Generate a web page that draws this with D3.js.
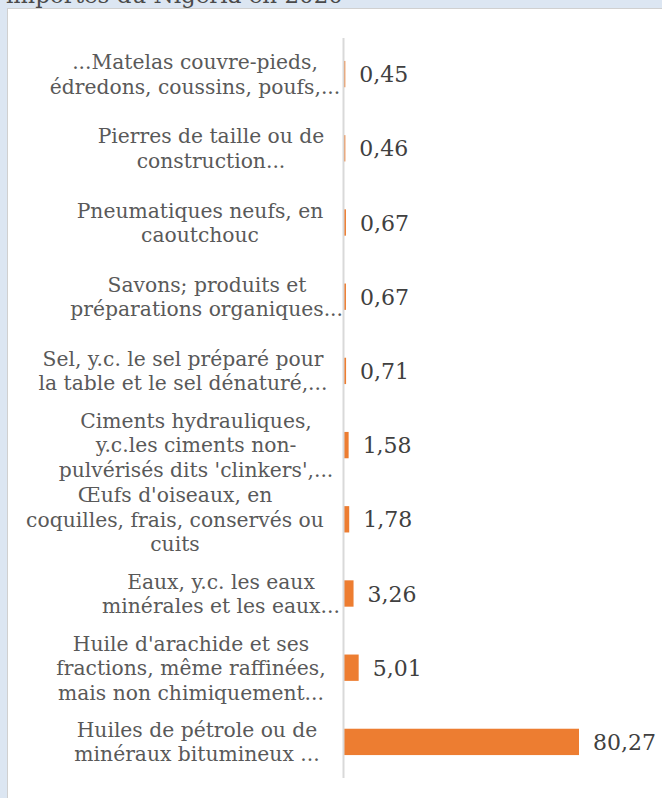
<!DOCTYPE html>
<html><head><meta charset="utf-8">
<script src="https://cdn.jsdelivr.net/npm/d3@7"></script>
<style>
html,body{margin:0;padding:0;background:#dce6f2;}
svg{display:block;}
</style></head>
<body>
<svg id="chart" width="662" height="798"></svg>
<script>
const titleText = "importés du Nigéria en 2020";
const categories = [
  ["...Matelas couvre-pieds,", "édredons, coussins, poufs,..."],
  ["Pierres de taille ou de", "construction..."],
  ["Pneumatiques neufs, en", "caoutchouc"],
  ["Savons; produits et", "préparations organiques..."],
  ["Sel, y.c. le sel préparé pour", "la table et le sel dénaturé,..."],
  ["Ciments hydrauliques,", "y.c.les ciments non-", "pulvérisés dits 'clinkers',..."],
  ["Œufs d'oiseaux, en", "coquilles, frais, conservés ou", "cuits"],
  ["Eaux, y.c. les eaux", "minérales et les eaux..."],
  ["Huile d'arachide et ses", "fractions, même raffinées,", "mais non chimiquement..."],
  ["Huiles de pétrole ou de", "minéraux bitumineux ..."]
];
const values = [0.45, 0.46, 0.67, 0.67, 0.71, 1.58, 1.78, 3.26, 5.01, 80.27];
const valueLabels = ["0,45", "0,46", "0,67", "0,67", "0,71", "1,58", "1,78", "3,26", "5,01", "80,27"];

// layout only: horizontal centre of each wrapped category-label block (as placed in the reference)
const labelCenterX = [195, 211, 200, 207, 183, 196, 175, 221, 191, 197];

const svg = d3.select("#chart");
const FONT = "'DejaVu Serif', serif";

// title (cut off at top of the frame, as in the reference)
svg.append("text").attr("x", 6).attr("y", 3)
  .attr("font-family", FONT).attr("font-size", 23).attr("fill", "#4a4a4a")
  .text(titleText);

// panel
svg.append("rect").attr("x", 7.5).attr("y", 8.5).attr("width", 700).attr("height", 820)
  .attr("fill", "#ffffff").attr("stroke", "#d0d0d0").attr("stroke-width", 1);

const idx = d3.range(values.length);
const y = d3.scaleBand().domain(idx).range([37, 779]).paddingInner(0.645).paddingOuter(0.3225);
const x = d3.scaleLinear().domain([0, 90]).range([344, 344 + 90 * (235 / 80.27)]);

// bars
svg.append("g").selectAll("rect").data(idx).join("rect")
  .attr("x", x(0))
  .attr("y", i => y(i))
  .attr("width", i => x(values[i]) - x(0))
  .attr("height", y.bandwidth())
  .attr("fill", "#ed7d31");

// axis line
svg.append("line").attr("x1", 343.5).attr("x2", 343.5).attr("y1", 38).attr("y2", 778)
  .attr("stroke", "#d9d9d9").attr("stroke-width", 2);

// value labels
svg.append("g").selectAll("text").data(idx).join("text")
  .attr("x", i => x(values[i]) + 14)
  .attr("y", i => y(i) + y.bandwidth() / 2 + 8)
  .attr("font-family", FONT).attr("font-size", 22).attr("fill", "#404040")
  .text(i => valueLabels[i]);

// category labels: centered wrapped lines, never past the axis
const lh = 24.5, catSize = 20.3, right = 343;
idx.forEach(i => {
  const lines = categories[i];
  const g = svg.append("g");
  const center = y(i) + y.bandwidth() / 2;
  lines.forEach((l, k) => {
    const t = g.append("text")
      .attr("font-family", FONT).attr("font-size", catSize).attr("fill", "#595959")
      .attr("text-anchor", "middle")
      .attr("y", center - (lines.length - 1) * lh / 2 + k * lh + catSize * 0.36)
      .text(l);
    const w = t.node().getComputedTextLength();
    t.attr("x", Math.min(labelCenterX[i], right - w / 2));
  });
});
</script>
</body></html>
